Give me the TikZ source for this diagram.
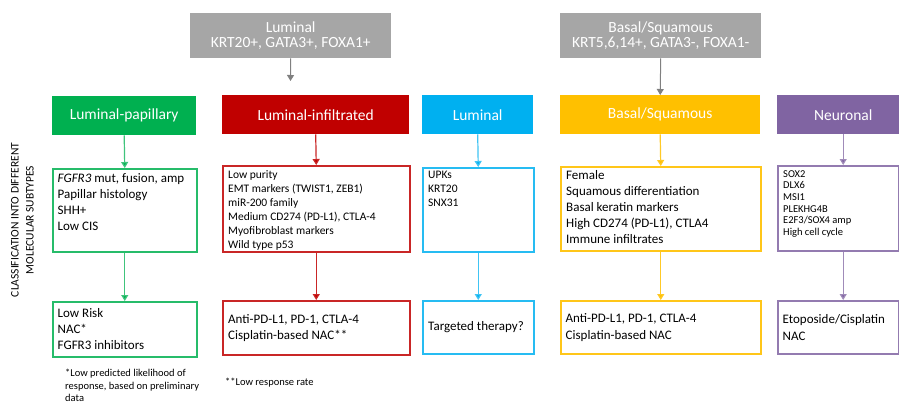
\documentclass[tikz,border=0pt]{standalone}
\usepackage{fontspec}
\setmainfont{Carlito}
\usetikzlibrary{arrows.meta,calc}
\definecolor{cgreen}{HTML}{00B050}
\definecolor{cred}{HTML}{C00000}
\definecolor{ccyan}{HTML}{00B0F0}
\definecolor{cyellow}{HTML}{FFC000}
\definecolor{cpurple}{HTML}{8064A2}
\definecolor{cgray}{HTML}{A6A6A6}
\definecolor{garrow}{HTML}{808080}
\newcommand{\fsz}[2]{\fontsize{#1}{#2}\selectfont}
\begin{document}
\begin{tikzpicture}[x=1pt,y=-1pt,
  hdr/.style={rectangle, inner sep=0, text=white, font=\fsz{15.5}{16}, minimum height=39pt, anchor=north west},
  graybox/.style={rectangle, fill=cgray, inner sep=0, text=white, align=center, font=\fsz{15.5}{15.5}, minimum width=201pt, minimum height=45pt, anchor=north west},
  databox/.style={rectangle, draw, line width=1.5pt, inner sep=0, anchor=north west},
  txt/.style={inner sep=0, align=left, anchor=north west},
  arr/.style={line width=1.2pt, -{Triangle[width=7pt,length=6pt]}},
  garr/.style={draw=garrow, line width=1pt, -{Triangle[width=7pt,length=6pt]}}
]
\useasboundingbox[fill=white] (0,0) rectangle (899,404);

% top gray boxes
\node[graybox] (lg) at (190,13) {Luminal\\KRT20+, GATA3+, FOXA1+};
\node[graybox] (bg) at (560,13) {Basal/Squamous\\KRT5,6,14+, GATA3-, FOXA1-};
\coordinate (lgend) at (290.5,81);
\draw[garr] (lg.south) -- (lgend);

% left label
\node[rotate=90, align=center, font=\fsz{11.5}{15}, inner sep=0] (cls) at (22.5,220) {CLASSIFICATION INTO DIFFERENT\\MOLECULAR SUBTYPES};

% headers
\node[hdr, fill=cgreen, minimum width=144pt] (gh) at (52,96) {Luminal-papillary};
\node[hdr, fill=cred, minimum width=187pt] (rh) at (222,95) {Luminal-infiltrated};
\node[hdr, fill=ccyan, minimum width=111pt] (ch) at (422,95) {Luminal};
\node[hdr, fill=cyellow, minimum width=200pt] (yh) at (560,95) {Basal/Squamous};
\node[hdr, fill=cpurple, minimum width=132pt] (ph) at (777,95) {Neuronal};
\draw[garr] (bg.south) -- (yh.north);

% middle boxes
\node[databox, draw=cgreen!85, minimum width=144pt, minimum height=83pt] (gm) at (52,168) {};
\node[txt, font=\fsz{13}{16}] (gmt) at ([xshift=5.5pt,yshift=-5pt]gm.north west) {\textit{FGFR3} mut, fusion, amp\\Papillar histology\\SHH+\\Low CIS};

\node[databox, draw=cred!85, minimum width=187pt, minimum height=86pt] (rm) at (222,165) {};
\node[txt, font=\fsz{11.5}{14}] (rmt) at ([xshift=6pt,yshift=-5pt]rm.north west) {Low purity\\EMT markers (TWIST1, ZEB1)\\miR-200 family\\Medium CD274 (PD-L1), CTLA-4\\Myofibroblast markers\\Wild type p53};

\node[databox, draw=ccyan!85, minimum width=111pt, minimum height=84pt] (cm) at (422,167) {};
\node[txt, font=\fsz{11.5}{14}] (cmt) at ([xshift=6pt,yshift=-4pt]cm.north west) {UPKs\\KRT20\\SNX31};

\node[databox, draw=cyellow!90, minimum width=200pt, minimum height=84pt] (ym) at (560,166) {};
\node[txt, font=\fsz{13}{16}] (ymt) at ([xshift=6pt,yshift=-4pt]ym.north west) {Female\\Squamous differentiation\\Basal keratin markers\\High CD274 (PD-L1), CTLA4\\Immune infiltrates};

\node[databox, draw=cpurple!85, minimum width=121pt, minimum height=85pt] (pm) at (777,165) {};
\node[txt, font=\fsz{10.5}{11.7}] (pmt) at ([xshift=6pt,yshift=-5pt]pm.north west) {SOX2\\DLX6\\MSI1\\PLEKHG4B\\E2F3/SOX4 amp\\High cell cycle};

% bottom boxes
\node[databox, draw=cgreen!85, minimum width=144pt, minimum height=55pt] (gb) at (52,301) {};
\node[txt, anchor=west, font=\fsz{13}{16}] (gbt) at ([xshift=5.5pt]gb.west) {Low Risk\\NAC*\\FGFR3 inhibitors};

\node[databox, draw=cred!85, minimum width=187pt, minimum height=54pt] (rb) at (222,300) {};
\node[txt, anchor=west, font=\fsz{13}{16}] (rbt) at ([xshift=6pt]rb.west) {Anti-PD-L1, PD-1, CTLA-4\\Cisplatin-based NAC**};

\node[databox, draw=ccyan!85, minimum width=111pt, minimum height=53pt] (cb) at (422,300) {};
\node[txt, anchor=west, font=\fsz{13}{16}] (cbt) at ([xshift=6pt]cb.west) {Targeted therapy?};

\node[databox, draw=cyellow!90, minimum width=200pt, minimum height=53pt] (yb) at (560,300) {};
\node[txt, anchor=west, font=\fsz{13}{17}] (ybt) at ([xshift=5.5pt]yb.west) {Anti-PD-L1, PD-1, CTLA-4\\Cisplatin-based NAC};

\node[databox, draw=cpurple!85, minimum width=121pt, minimum height=53pt] (pb) at (777,300) {};
\node[txt, anchor=west, font=\fsz{13}{17}] (pbt) at ([xshift=5.5pt]pb.west) {Etoposide/Cisplatin\\NAC};

% arrows
\draw[arr, draw=cgreen!75, -{Triangle[width=7pt,length=6pt,fill=cgreen]}] (gh.south) -- (gm.north);
\draw[arr, draw=cgreen!75, -{Triangle[width=7pt,length=6pt,fill=cgreen]}] (gm.south) -- (gb.north);
\draw[arr, draw=cred!85, -{Triangle[width=7pt,length=6pt,fill=cred]}] (rh.south) -- (rm.north);
\draw[arr, draw=cred!85, -{Triangle[width=7pt,length=6pt,fill=cred]}] (rm.south) -- (rb.north);
\draw[arr, draw=ccyan!75, -{Triangle[width=7pt,length=6pt,fill=ccyan]}] (ch.south) -- (cm.north);
\draw[arr, draw=ccyan!75, -{Triangle[width=7pt,length=6pt,fill=ccyan]}] (cm.south) -- (cb.north);
\draw[arr, draw=cyellow!85, -{Triangle[width=7pt,length=6pt,fill=cyellow]}] (yh.south) -- (ym.north);
\draw[arr, draw=cyellow!85, -{Triangle[width=7pt,length=6pt,fill=cyellow]}] (ym.south) -- (yb.north);
\draw[arr, draw=cpurple!75, -{Triangle[width=7pt,length=6pt,fill=cpurple]}] (ph.south) -- (ph.south |- pm.north);
\draw[arr, draw=cpurple!75, -{Triangle[width=7pt,length=6pt,fill=cpurple]}] (ph.south |- pm.south) -- (ph.south |- pb.north);

% footnotes
\node[txt, font=\fsz{10.5}{12.5}] (fn1) at (65,369) {*Low predicted likelihood of\\response, based on preliminary\\data};
\node[txt, font=\fsz{10.5}{12.5}] (fn2) at (225,378) {**Low response rate};
\end{tikzpicture}
\end{document}
